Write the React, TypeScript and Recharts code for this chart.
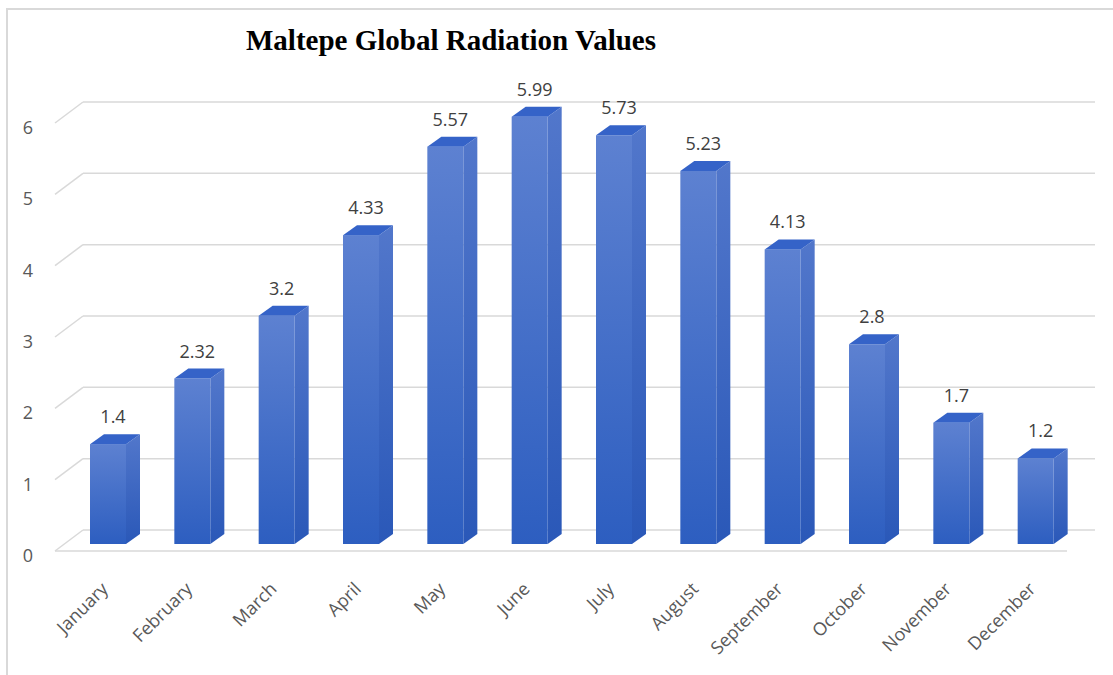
import { Bar, BarChart, CartesianGrid, LabelList, XAxis, YAxis } from "recharts"

const months = [
  "January",
  "February",
  "March",
  "April",
  "May",
  "June",
  "July",
  "August",
  "September",
  "October",
  "November",
  "December",
]

const radiation = [1.4, 2.32, 3.2, 4.33, 5.57, 5.99, 5.73, 5.23, 4.13, 2.8, 1.7, 1.2]

const yTicks = [0, 1, 2, 3, 4, 5, 6]

const data = months.map((month, i) => ({ month, value: radiation[i] }))

const FONT = "'Open Sans', 'Liberation Sans', sans-serif"
const DX = 14
const DY = 10

// 3D-looking column: front face, top and right side
function Column(props: any) {
  const { x, y, width, height } = props
  if (height <= 0) return null
  const w = width
  return (
    <g>
      <polygon
        points={`${x + w},${y} ${x + w + DX},${y - DY} ${x + w + DX},${y + height - DY} ${x + w},${y + height}`}
        fill="url(#sideGrad)"
      />
      <rect x={x} y={y} width={w} height={height} fill="url(#frontGrad)" />
      <polygon
        points={`${x},${y} ${x + DX},${y - DY} ${x + w + DX},${y - DY} ${x + w},${y}`}
        fill="#3563c8"
      />
    </g>
  )
}

// back wall line plus the little floor diagonal on the left
function GridLine(props: any) {
  const { x1, x2, y1 } = props
  const back = y1 - 14
  const front = y1 + 7
  return (
    <g key={`grid-${y1}`}>
      <line x1={x1 + 17} y1={back} x2={x2 + 17} y2={back} stroke="#d9d9d9" strokeWidth={1.5} />
      <line x1={x1 - 11} y1={front} x2={x1 + 17} y2={back} stroke="#d9d9d9" strokeWidth={1.5} />
      {Math.abs(y1 - 544) < 1 && (
        <line x1={x1 - 11} y1={front} x2={x2 - 11} y2={front} stroke="#d9d9d9" strokeWidth={1.5} />
      )}
    </g>
  )
}

function ValueTick(props: any) {
  const { y, payload } = props
  return (
    <text x={33} y={y + 18} textAnchor="end" fontSize={18} fill="#595959" fontFamily={FONT}>
      {payload.value}
    </text>
  )
}

function MonthTick(props: any) {
  const { x, payload } = props
  const ax = x + 1
  const ay = 590
  return (
    <text
      x={ax}
      y={ay}
      transform={`rotate(-45 ${ax} ${ay})`}
      textAnchor="end"
      fontSize={18}
      fill="#595959"
      fontFamily={FONT}
    >
      {payload.value}
    </text>
  )
}

function ValueLabel(props: any) {
  const { x, y, width, value } = props
  return (
    <text
      x={x + width / 2 + 5}
      y={y - 21}
      textAnchor="middle"
      fontSize={18}
      fill="#404040"
      fontFamily={FONT}
    >
      {value}
    </text>
  )
}

export default function App() {
  return (
    <div style={{ position: "fixed", left: 0, top: 0, width: 1113, height: 675, background: "#fff" }}>
      <div
        style={{
          position: "absolute",
          left: 6,
          top: 8,
          width: 1130,
          height: 700,
          border: "2px solid #d9d9d9",
        }}
      />
      <div
        style={{
          position: "absolute",
          left: 0,
          top: 24,
          width: 902,
          textAlign: "center",
          fontFamily: "'Liberation Serif', 'Times New Roman', serif",
          fontWeight: "bold",
          fontSize: 29,
          color: "#000",
        }}
      >
        Maltepe Global Radiation Values
      </div>
      <div style={{ position: "absolute", left: 0, top: 0 }}>
        <BarChart
          width={1113}
          height={675}
          data={data}
          margin={{ top: 116, right: 35, bottom: 0, left: 26 }}
        >
          <defs>
            <linearGradient id="frontGrad" x1="0" y1="0" x2="0" y2="1">
              <stop offset="0%" stopColor="#5d81d1" />
              <stop offset="100%" stopColor="#2d5ec0" />
            </linearGradient>
            <linearGradient id="sideGrad" x1="0" y1="0" x2="0" y2="1">
              <stop offset="0%" stopColor="#5277cb" />
              <stop offset="100%" stopColor="#2a58b8" />
            </linearGradient>
          </defs>
          <CartesianGrid vertical={false} horizontal={GridLine} />
          <XAxis
            dataKey="month"
            axisLine={false}
            tickLine={false}
            interval={0}
            height={131}
            tick={MonthTick}
          />
          <YAxis
            domain={[0, 6]}
            ticks={yTicks}
            axisLine={false}
            tickLine={false}
            width={40}
            tick={ValueTick}
          />
          <Bar dataKey="value" barSize={36} shape={Column} isAnimationActive={false}>
            <LabelList dataKey="value" content={ValueLabel} />
          </Bar>
        </BarChart>
      </div>
    </div>
  )
}
